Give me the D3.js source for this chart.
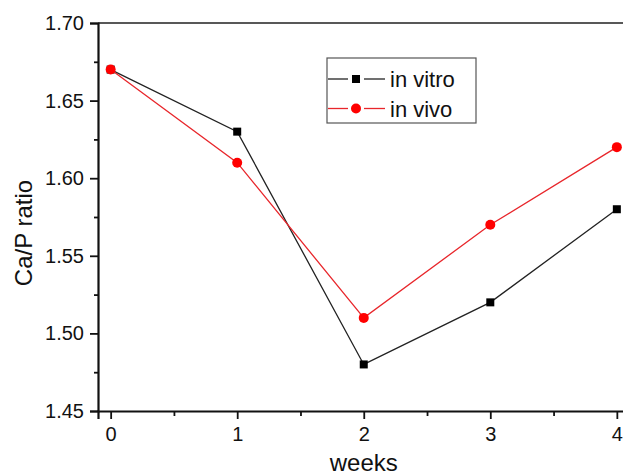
<!DOCTYPE html>
<html>
<head>
<meta charset="utf-8">
<script src="https://cdn.jsdelivr.net/npm/d3@7"></script>
<style>
  body { margin: 0; background: #fff; }
  text { font-family: "Liberation Sans", Arial, sans-serif; fill: #111; }
</style>
</head>
<body>
<div id="chart"></div>
<script>
const WIDTH = 623;
const HEIGHT = 475;

// data
const weeks = [0, 1, 2, 3, 4];
const inVitro = [1.67, 1.63, 1.48, 1.52, 1.58];
const inVivo = [1.67, 1.61, 1.51, 1.57, 1.62];
const yTicks = [1.45, 1.50, 1.55, 1.60, 1.65, 1.70];
const yMinor = [1.475, 1.525, 1.575, 1.625, 1.675];
const xMinor = [0.5, 1.5, 2.5, 3.5];

const MARGIN = { TOP: 23, LEFT: 98, BOTTOM: 64 };

const svg = d3.select('#chart')
    .append('svg')
    .attr('width', WIDTH)
    .attr('height', HEIGHT)

// plot runs past the right edge of the picture, like the original
let x = d3.scaleLinear()
    .domain([-0.1, 4.1])
    .range([MARGIN.LEFT, 629.5])

let y = d3.scaleLinear()
    .domain([1.45, 1.70])
    .range([HEIGHT - MARGIN.BOTTOM, MARGIN.TOP])

// frame (top and right)
svg.append('path')
    .attr('d', `M${x(-0.1)},${y(1.70)} H${x(4.1)} V${y(1.45)}`)
    .attr('fill', 'none')
    .attr('stroke', '#222')
    .attr('stroke-width', 1.5)

// y axis
const yAxis = svg.append('g')
    .attr('transform', `translate(${MARGIN.LEFT},0)`)
    .call(d3.axisLeft(y).tickValues(yTicks).tickFormat(d3.format('.2f')).tickSize(8).tickPadding(6))
yAxis.append('g')
    .call(d3.axisLeft(y).tickValues(yMinor).tickFormat('').tickSize(4))
    .select('.domain').remove()

// x axis
const xAxis = svg.append('g')
    .attr('transform', `translate(0,${y(1.45)})`)
    .call(d3.axisBottom(x).tickValues(weeks).tickFormat(d3.format('d')).tickSize(8).tickPadding(8))
xAxis.append('g')
    .call(d3.axisBottom(x).tickValues(xMinor).tickFormat('').tickSize(5))
    .select('.domain').remove()

svg.selectAll('.domain').attr('stroke', '#111').attr('stroke-width', 2.2)
svg.selectAll('.tick line').attr('stroke', '#111').attr('stroke-width', 1.8)
svg.selectAll('.tick text')
    .attr('font-size', 20)
    .style('font-size', '20px')
    .attr('fill', '#222')

// axis titles
svg.append('text')
    .attr('x', x(2))
    .attr('y', 471)
    .attr('text-anchor', 'middle')
    .style('font-size', '24px')
    .text('weeks')

svg.append('text')
    .attr('transform', `translate(32,233) rotate(-90)`)
    .attr('text-anchor', 'middle')
    .style('font-size', '24px')
    .text('Ca/P ratio')

const line = d3.line()
    .x((d, i) => x(weeks[i]))
    .y(d => y(d))

// in vitro (black squares)
svg.append('path')
    .datum(inVitro)
    .attr('d', line)
    .attr('fill', 'none')
    .attr('stroke', '#222')
    .attr('stroke-width', 1.3)

svg.selectAll('.sq')
    .data(inVitro)
    .enter()
    .append('rect')
    .attr('x', (d, i) => x(weeks[i]) - 4)
    .attr('y', d => y(d) - 4)
    .attr('width', 8)
    .attr('height', 8)
    .attr('fill', '#000')

// in vivo (red circles)
svg.append('path')
    .datum(inVivo)
    .attr('d', line)
    .attr('fill', 'none')
    .attr('stroke', '#e8262b')
    .attr('stroke-width', 1.3)

svg.selectAll('.dot')
    .data(inVivo)
    .enter()
    .append('circle')
    .attr('cx', (d, i) => x(weeks[i]))
    .attr('cy', d => y(d))
    .attr('r', 5)
    .attr('fill', '#f00')

// legend
const legend = svg.append('g')
svg.append('rect')
    .attr('x', 327)
    .attr('y', 58)
    .attr('width', 149)
    .attr('height', 65)
    .attr('fill', 'none')
    .attr('stroke', '#555')
    .attr('stroke-width', 1.2)

const legendItems = [
    { label: 'in vitro', color: '#222', mark: 'square', cy: 79 },
    { label: 'in vivo', color: '#e8262b', mark: 'circle', cy: 108.5 }
];

legendItems.forEach(function (d) {
    // line sample with a gap each side of the marker
    legend.append('line')
        .attr('x1', 328).attr('x2', 348)
        .attr('y1', d.cy).attr('y2', d.cy)
        .attr('stroke', d.color)
        .attr('stroke-width', 1.3)
    legend.append('line')
        .attr('x1', 364).attr('x2', 385)
        .attr('y1', d.cy).attr('y2', d.cy)
        .attr('stroke', d.color)
        .attr('stroke-width', 1.3)
    if (d.mark === 'square') {
        legend.append('rect')
            .attr('x', 352).attr('y', d.cy - 4)
            .attr('width', 8).attr('height', 8)
            .attr('fill', '#000')
    } else {
        legend.append('circle')
            .attr('cx', 356).attr('cy', d.cy)
            .attr('r', 5)
            .attr('fill', '#f00')
    }
    legend.append('text')
        .attr('x', 390)
        .attr('y', d.cy + 8)
        .style('font-size', '22px')
        .text(d.label)
})
</script>
</body>
</html>
